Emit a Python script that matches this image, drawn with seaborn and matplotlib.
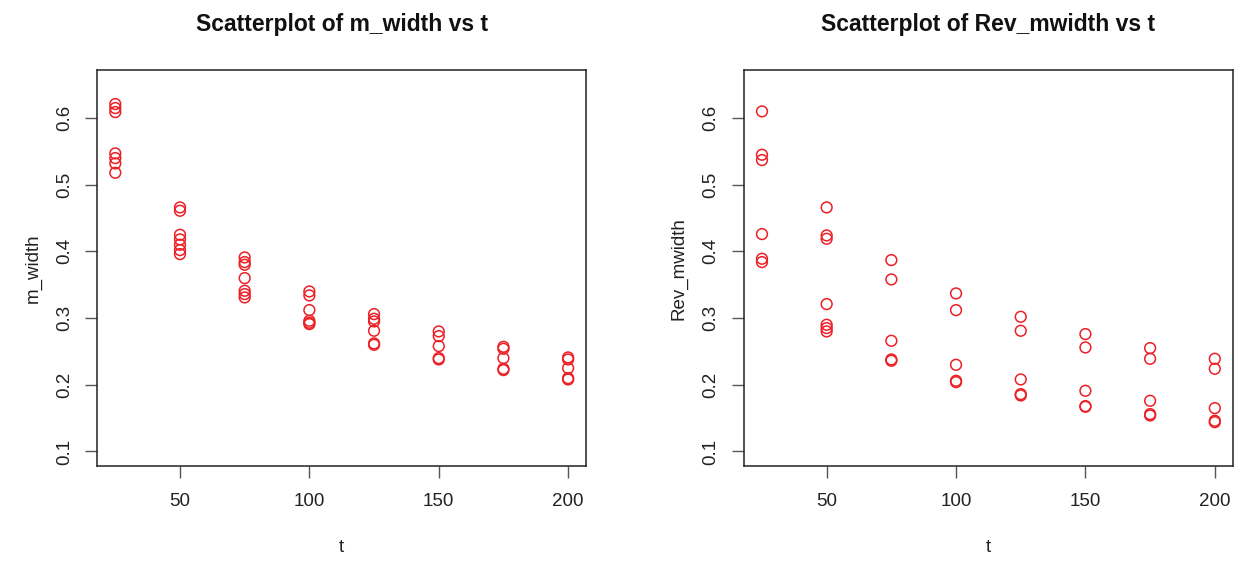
import matplotlib
matplotlib.use("Agg")
import matplotlib.pyplot as plt
import seaborn as sns
import pandas as pd

# m_width readings by t
t_m = [25] * 7 + [50] * 7 + [75] * 7 + [100] * 6 + [125] * 6 + [150] * 5 + [175] * 5 + [200] * 5
m_width = [0.621, 0.615, 0.609, 0.547, 0.540, 0.532, 0.518,
           0.466, 0.461, 0.425, 0.418, 0.410, 0.402, 0.396,
           0.391, 0.384, 0.380, 0.360, 0.341, 0.336, 0.331,
           0.340, 0.334, 0.312, 0.296, 0.293, 0.291,
           0.306, 0.299, 0.295, 0.281, 0.262, 0.260,
           0.280, 0.273, 0.258, 0.240, 0.238,
           0.257, 0.254, 0.240, 0.224, 0.222,
           0.241, 0.238, 0.225, 0.210, 0.208]

# Rev_mwidth readings by t
t_rev = [25] * 6 + [50] * 7 + [75] * 5 + [100] * 5 + [125] * 5 + [150] * 5 + [175] * 5 + [200] * 5
rev_mwidth = [0.610, 0.545, 0.537, 0.426, 0.389, 0.384,
              0.466, 0.424, 0.419, 0.321, 0.290, 0.285, 0.280,
              0.387, 0.358, 0.266, 0.238, 0.236,
              0.337, 0.312, 0.230, 0.206, 0.204,
              0.302, 0.281, 0.208, 0.186, 0.184,
              0.276, 0.256, 0.191, 0.168, 0.167,
              0.255, 0.239, 0.176, 0.156, 0.154,
              0.239, 0.224, 0.165, 0.146, 0.144]

x_ticks = [50, 100, 150, 200]
y_ticks = [0.1, 0.2, 0.3, 0.4, 0.5, 0.6]

df_m = pd.DataFrame({"t": t_m, "m_width": m_width})
df_rev = pd.DataFrame({"t": t_rev, "Rev_mwidth": rev_mwidth})

sns.set_theme(style="white")
plt.rcParams["font.family"] = ["Liberation Sans", "DejaVu Sans"]

fig = plt.figure(figsize=(12.46, 5.65), dpi=100)
ax1 = fig.add_axes([0.078, 0.175, 0.3925, 0.701])
ax2 = fig.add_axes([0.597, 0.175, 0.3925, 0.701])

panels = [(ax1, df_m, "m_width", "Scatterplot of m_width vs t"),
          (ax2, df_rev, "Rev_mwidth", "Scatterplot of Rev_mwidth vs t")]

for ax, data, col, title in panels:
    sns.scatterplot(data=data, x="t", y=col, ax=ax, marker="o", s=60,
                    facecolor="none", edgecolor="#ec2027", linewidth=1.1)
    ax.set_xlim(18, 207)
    ax.set_ylim(0.078, 0.672)
    ax.set_xticks(x_ticks)
    ax.set_yticks(y_ticks)
    ax.set_yticklabels([f"{v:.1f}" for v in y_ticks], rotation=90, va="center")
    ax.tick_params(axis="both", bottom=True, left=True, length=8.5, width=1,
                   color="#555555", labelsize=13.5, direction="out",
                   labelcolor="#222222")
    ax.tick_params(axis="x", pad=11)
    ax.tick_params(axis="y", pad=9)
    for sp in ax.spines.values():
        sp.set_color("#222222")
        sp.set_linewidth(1.1)
    ax.set_title(title, fontsize=16.5, fontweight="bold", pad=28, color="#111111")
    ax.set_xlabel("t", fontsize=13.5, labelpad=21, color="#222222")
    ax.set_ylabel(col, fontsize=13.5, labelpad=10.5, color="#222222")

fig.savefig("out.png", dpi=100)
